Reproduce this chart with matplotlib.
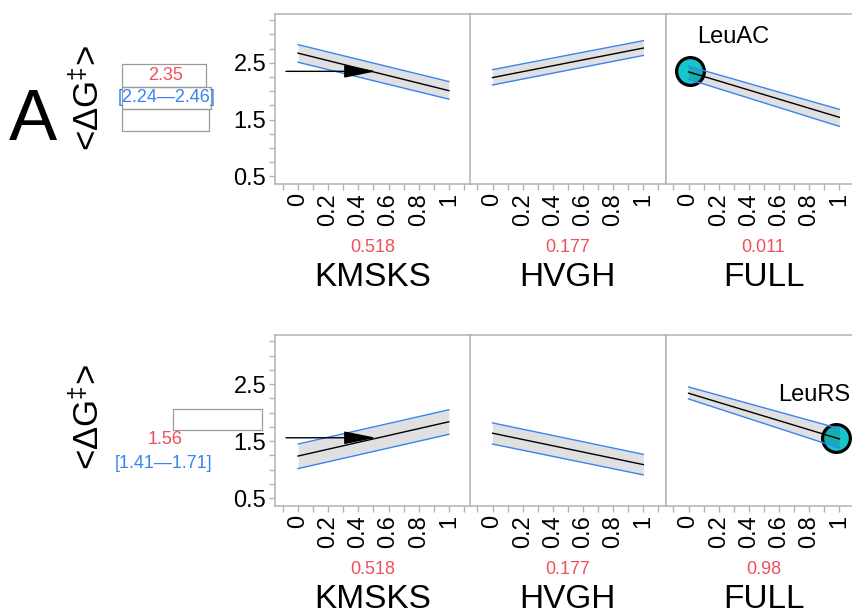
import matplotlib

matplotlib.use("Agg")
import matplotlib.pyplot as plt
from matplotlib.patches import Rectangle
from matplotlib.ticker import FixedLocator, MultipleLocator

plt.rcParams["font.family"] = ["Liberation Sans", "DejaVu Sans"]
plt.rcParams["mathtext.fontset"] = "custom"
plt.rcParams["mathtext.rm"] = "Liberation Sans"
plt.rcParams["mathtext.default"] = "regular"

factors = ["KMSKS", "HVGH", "FULL"]
x_ends = [0, 1]

# row A (LeuAC)
a_mid = [[2.67, 2.01], [2.24, 2.76], [2.34, 1.54]]
a_hi = [[2.82, 2.17], [2.38, 2.89], [2.44, 1.68]]
a_lo = [[2.51, 1.86], [2.11, 2.63], [2.21, 1.38]]
a_settings = ["0.518", "0.177", "0.011"]
a_pred = 2.35
a_ci = "[2.24\u20142.46]"
a_point = (0.011, 2.35)
a_name = "LeuAC"

# row B (LeuRS)
b_mid = [[1.24, 1.84], [1.64, 1.09], [2.34, 1.54]]
b_hi = [[1.45, 2.05], [1.82, 1.27], [2.45, 1.72]]
b_lo = [[1.02, 1.62], [1.45, 0.91], [2.24, 1.38]]
b_settings = ["0.518", "0.177", "0.98"]
b_pred = 1.56
b_ci = "[1.41\u20141.71]"
b_point = (0.98, 1.56)
b_name = "LeuRS"

x_labels = [0, 0.2, 0.4, 0.6, 0.8, 1]
y_major = [0.5, 1.5, 2.5]

RED = "#f04f5c"
BLUE = "#3a84f2"
GREY = "#b3b3b3"
CYAN = "#17c5cc"

W, H = 852, 615
PT = 0.72  # points per pixel at dpi 100


def px(x, y):
    return x / W, 1 - y / H


fig = plt.figure(figsize=(W / 100, H / 100), dpi=100)

col_left = [275, 469.5, 665.5]
col_w = 196
rows = [
    dict(top=14, h=170, mid=a_mid, hi=a_hi, lo=a_lo, settings=a_settings,
         pred=a_pred, point=a_point, name=a_name, name_off=(7, 34)),
    dict(top=335, h=171, mid=b_mid, hi=b_hi, lo=b_lo, settings=b_settings,
         pred=b_pred, point=b_point, name=b_name, name_off=(-58, 43)),
]

for r, row in enumerate(rows):
    for c, fac in enumerate(factors):
        ax = fig.add_axes([col_left[c] / W, 1 - (row["top"] + row["h"]) / H,
                           col_w / W, row["h"] / H])
        ax.set_xlim(-0.153, 1.147)
        ax.set_ylim(0.365, 3.36)

        ax.fill_between(x_ends, row["lo"][c], row["hi"][c], color="k",
                        alpha=0.12, lw=0, zorder=3)
        ax.plot(x_ends, row["hi"][c], color=BLUE, lw=1.0, zorder=4)
        ax.plot(x_ends, row["lo"][c], color=BLUE, lw=1.0, zorder=4)
        ax.plot(x_ends, row["mid"][c], color="k", lw=1.0, zorder=5)

        ax.xaxis.set_major_locator(FixedLocator(x_labels))
        ax.xaxis.set_minor_locator(MultipleLocator(0.1))
        ax.set_xticklabels([f"{v:g}" for v in x_labels], rotation=90)
        ax.tick_params(axis="x", which="both", direction="out", length=6 * PT,
                       width=1, color=GREY, labelsize=17, pad=2)

        if c == 0:
            ax.yaxis.set_major_locator(FixedLocator(y_major))
            ax.yaxis.set_minor_locator(MultipleLocator(0.25))
            ax.set_yticklabels([f"{v:g}" for v in y_major])
            ax.tick_params(axis="y", which="both", direction="out",
                           length=6 * PT, width=1, color=GREY, labelsize=17,
                           pad=2)
            # current setting arrow
            ax.annotate("", xy=(float(row["settings"][0]), row["pred"]),
                        xytext=(-0.08, row["pred"]),
                        arrowprops=dict(arrowstyle="-|>,head_length=1.25,head_width=0.25",
                                        color="k", lw=1.0, shrinkA=0, shrinkB=0,
                                        mutation_scale=16),
                        zorder=6)
        else:
            ax.tick_params(axis="y", which="both", left=False, labelleft=False)

        for sp in ax.spines.values():
            sp.set_color(GREY)
            sp.set_linewidth(1.1)

        ax.annotate(row["settings"][c], xy=(0.5, 0), xycoords="axes fraction",
                    xytext=(0, -63 * PT), textcoords="offset points",
                    ha="center", va="center", color=RED, fontsize=13)
        ax.annotate(fac, xy=(0.5, 0), xycoords="axes fraction",
                    xytext=(0, -94 * PT), textcoords="offset points",
                    ha="center", va="center", fontsize=24)

        if c == 2:
            px0, py0 = row["point"]
            ax.plot(px0, py0, "o", ms=20, mfc=CYAN, mec="k", mew=2.3,
                    zorder=2, clip_on=False)
            ax.annotate(row["name"], xy=(px0, py0),
                        xytext=(row["name_off"][0] * PT, row["name_off"][1] * PT),
                        textcoords="offset points", ha="left", va="center",
                        fontsize=17)

# panel letter and response labels
fig.text(*px(33, 122), "A", ha="center", va="center", fontsize=52)
ylab = r"<ΔG$^{‡}$>"
fig.text(*px(88, 98), ylab, rotation=90, ha="center", va="center", fontsize=25)
fig.text(*px(88, 417), ylab, rotation=90, ha="center", va="center", fontsize=25)

# prediction readout boxes
for (x0, y0, x1, y1) in [(122, 64, 206, 87), (122, 87, 211, 109),
                         (122, 109, 209, 131), (173, 409, 262, 430)]:
    bx, by = px(x0, y1)
    fig.add_artist(Rectangle((bx, by), (x1 - x0) / W, (y1 - y0) / H,
                             transform=fig.transFigure, fill=False,
                             ec="#9a9a9a", lw=0.9))

fig.text(*px(166, 75), f"{a_pred:.2f}", ha="center", va="center", color=RED, fontsize=13)
fig.text(*px(167, 97), a_ci, ha="center", va="center", color=BLUE, fontsize=13)
fig.text(*px(165, 440), f"{b_pred:.2f}", ha="center", va="center", color=RED, fontsize=13)
fig.text(*px(164, 463), b_ci, ha="center", va="center", color=BLUE, fontsize=13)

fig.savefig("out.png", dpi=100)
